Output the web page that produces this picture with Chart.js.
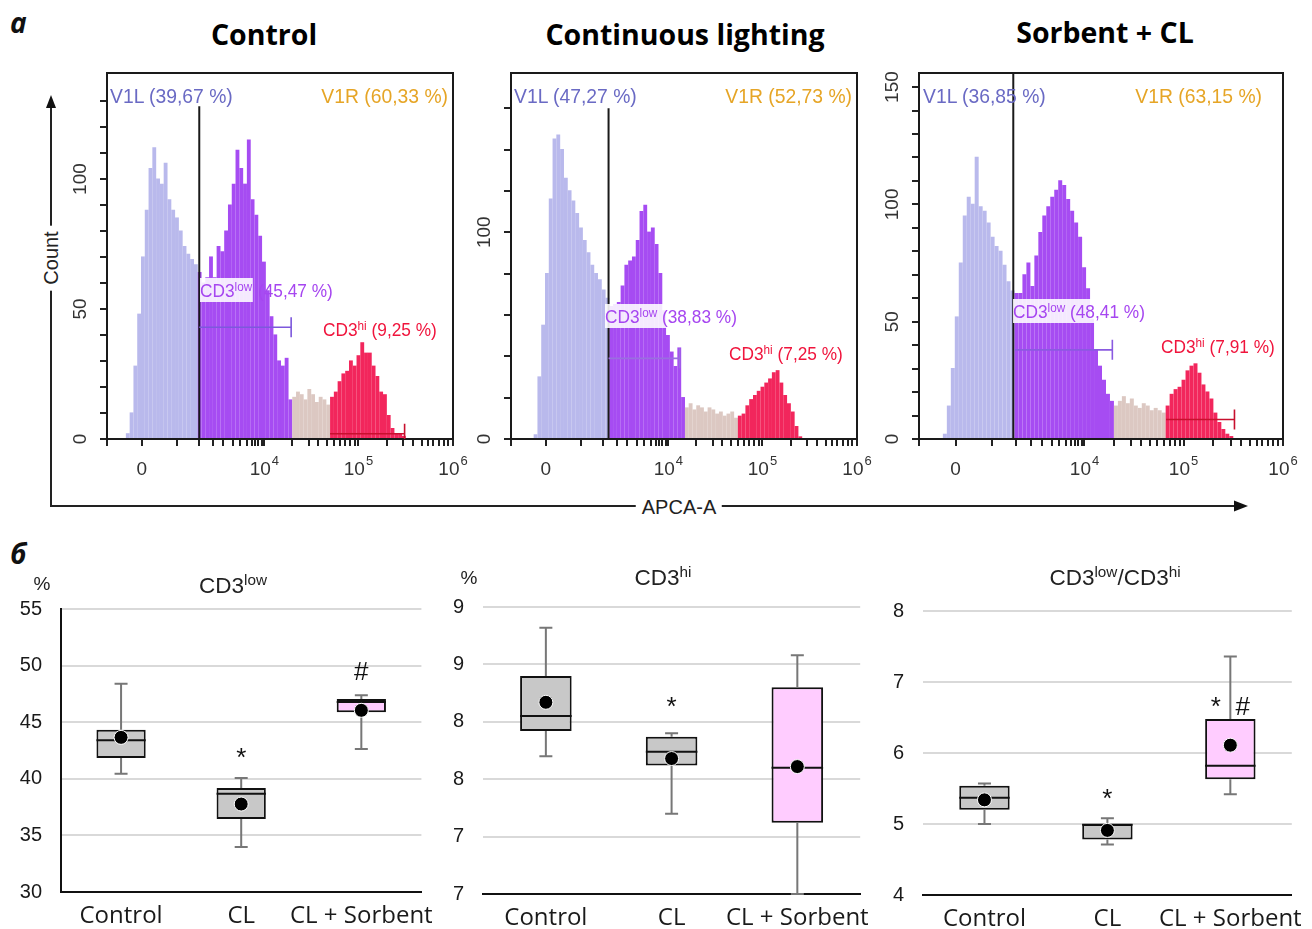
<!DOCTYPE html>
<html>
<head>
<meta charset="utf-8">
<script src="https://cdn.jsdelivr.net/npm/chart.js@4.4.1/dist/chart.umd.min.js"></script>
<style>
  html, body { margin: 0; padding: 0; background: #fff; }
  #fig { position: relative; width: 1312px; height: 929px; overflow: hidden; font-family: 'Liberation Sans', Arial, sans-serif; }
  canvas { position: absolute; }
  .t { position: absolute; white-space: nowrap; line-height: 1; z-index: 5; }
  .c { transform: translate(-50%, -50%); }
  .l { transform: translateY(-50%); }
  .r { transform: translate(-100%, -50%); }
  .lx { transform: translateY(-50%) scaleX(0.92); transform-origin: left center; }
  .rx { transform: translate(-100%, -50%) scaleX(0.92); transform-origin: right center; }
  .lq { transform: translateY(-50%) scaleX(0.96); transform-origin: left center; }
  sup { font-size: 0.68em; position: relative; top: -0.5em; vertical-align: baseline; line-height: 0; }
  .hdr { font-family: 'Open Sans'; font-weight: 700; font-size: 28.5px; color: #000; }
  .tag { font-family: 'Open Sans'; font-weight: 700; font-style: italic; font-size: 28px; color: #111; }
  .v1l { color: #6a6ac4; font-size: 21px; }
  .v1r { color: #e6a526; font-size: 21px; }
  .low { color: #a646f0; font-size: 18px; }
  .low .bg { background: rgba(255,255,255,0.88); display: inline-block; padding: 4px 1px 2px 0; }
  .hi { color: #f0143c; font-size: 18px; }
  .ttl { font-size: 22.5px; color: #222; }
  .ax { font-size: 20px; color: #222; background: #fff; padding: 0 6px; }
</style>
</head>
<body>
<div id="fig">
  <svg width="1312" height="929" style="position:absolute;left:0;top:0">
    <line x1="51" y1="104" x2="51" y2="506" stroke="#222" stroke-width="2"/>
    <polygon points="51,95 46,108 56,108" fill="#111"/>
    <line x1="50" y1="506" x2="1238" y2="506" stroke="#222" stroke-width="2"/>
    <polygon points="1248,506 1234,500.5 1234,511.5" fill="#111"/>
  </svg>

  <div class="t tag l" style="left:10px;top:22px">a</div>
  <div class="t hdr c" style="left:264px;top:34px">Control</div>
  <div class="t hdr c" style="left:685px;top:34px">Continuous lighting</div>
  <div class="t hdr c" style="left:1105px;top:32px">Sorbent + CL</div>

  <div class="t ax c" style="left:51px;top:258px;transform:translate(-50%,-50%) rotate(-90deg)">Count</div>
  <div class="t ax c" style="left:679px;top:507px">APCA-A</div>

  <div class="t v1l lx" style="left:110px;top:95px">V1L (39,67 %)</div>
  <div class="t v1r rx" style="left:448px;top:95px">V1R (60,33 %)</div>
  <div class="t low lq" style="left:200px;top:290px"><span class="bg">CD3<sup>low</sup></span> (45,47 %)</div>
  <div class="t hi lq" style="left:323px;top:330px">CD3<sup>hi</sup> (9,25 %)</div>

  <div class="t v1l lx" style="left:514px;top:95px">V1L (47,27 %)</div>
  <div class="t v1r rx" style="left:852px;top:95px">V1R (52,73 %)</div>
  <div class="t low lq" style="left:605px;top:316px"><span class="bg">CD3<sup>low</sup> (38,83 %)</span></div>
  <div class="t hi lq" style="left:729px;top:354px">CD3<sup>hi</sup> (7,25 %)</div>

  <div class="t v1l lx" style="left:923px;top:95px">V1L (36,85 %)</div>
  <div class="t v1r rx" style="left:1262px;top:95px">V1R (63,15 %)</div>
  <div class="t low lq" style="left:1013px;top:311px"><span class="bg">CD3<sup>low</sup> (48,41 %)</span></div>
  <div class="t hi lq" style="left:1161px;top:347px">CD3<sup>hi</sup> (7,91 %)</div>

  <div class="t tag l" style="left:10px;top:553px">б</div>
  <div class="t ttl c" style="left:42px;top:583px;font-size:19px">%</div>
  <div class="t ttl c" style="left:233px;top:586px">CD3<sup>low</sup></div>
  <div class="t ttl c" style="left:469px;top:577px;font-size:19px">%</div>
  <div class="t ttl c" style="left:663px;top:578px">CD3<sup>hi</sup></div>
  <div class="t ttl c" style="left:1115px;top:578px">CD3<sup>low</sup>/CD3<sup>hi</sup></div>
</div>

<script>
// ---- histogram data (x in channel units: 0 = left frame, 91.5 = 10^6) ----
const xMax = 91.5;
const xTickPos = [0, 9.2, 18.4, 24.4, 28.1, 30.8, 33.4, 35.2, 36.9, 38.3, 39.2, 40.0, 40.9, 41.6,
  49.0, 53.3, 55.9, 58.1, 59.9, 61.6, 63.0, 64.3, 65.6, 66.5,
  74.0, 78.4, 81.0, 83.2, 85.0, 86.3, 87.7, 89.0, 90.3, 91.5];
const xLabelPos = [9.2, 41.6, 66.5, 91.5];
const xLabelBase = ['0', '10', '10', '10'];
const xLabelExp = ['', '4', '5', '6'];

const regionColors = ['#b9b9ec', '#a64cf2', '#dcc8c2', '#f2265c'];

const ctrlStart = 5;
const ctrlCounts = [2, 10, 28, 48, 70, 88, 104, 112, 100, 98,
  106, 92, 88, 85, 80, 74, 71, 69, 67, 64,
  60, 62, 70, 62, 74, 72, 80, 90, 98, 111,
  104, 98, 115, 92, 86, 78, 68, 57, 47, 40,
  30, 28, 31, 15, 16, 18, 17, 15, 19, 17,
  14, 16, 15, 13, 16, 18, 22, 25, 26, 30,
  28, 32, 37, 33, 33, 28, 24, 18, 17, 9,
  4, 2, 2, 1];
const ctrlSplits = [24, 49, 59];

const clStart = 6;
const clCounts = [2, 30, 55, 80, 116, 145, 147, 140, 126, 120,
  115, 109, 102, 96, 90, 84, 80, 77, 72, 68,
  64, 65, 66, 74, 84, 86, 88, 96, 110, 113,
  100, 102, 94, 80, 62, 50, 42, 35, 44, 20,
  15, 17, 14, 16, 15, 13, 15, 14, 12, 13,
  11, 12, 13, 10, 11, 12, 16, 19, 21, 23,
  25, 27, 29, 32, 33, 27, 21, 17, 13, 6,
  1];
const clSplits = [26, 46, 60];

const sorbStart = 6;
const sorbCounts = [2, 14, 30, 52, 75, 95, 103, 100, 120, 99,
  97, 92, 86, 82, 80, 74, 67, 63, 62, 62,
  70, 75, 65, 78, 88, 95, 99, 103, 106, 110,
  108, 102, 97, 92, 86, 73, 64, 51, 38, 31,
  25, 19, 16, 14, 16, 18, 15, 17, 14, 13,
  15, 14, 12, 13, 12, 11, 14, 19, 21, 22,
  25, 29, 31, 32, 28, 23, 20, 17, 11, 7,
  4, 2, 1];
const sorbSplits = [24, 49, 62];

// ---- box plot data ----
const groups = ['Control', 'CL', 'CL + Sorbent'];
const boxFill = ['#c8c8c8', '#c8c8c8', '#ffccff'];

const lowMin = [40.45, 33.97, 42.63];
const lowQ1 = [41.84, 36.45, 45.87];
const lowMed = [43.4, 38.69, 46.78];
const lowQ3 = [44.34, 39.19, 47.05];
const lowMax = [48.4, 40.07, 47.37];
const lowMean = [43.66, 37.77, 46.05];
const lowMarks = ['', '*', '#'];
const lowMarkAt = [0, 41.16, 48.72];

const hiMin = [7.70, 7.20, 6.5];
const hiQ1 = [7.92, 7.62, 7.12];
const hiMed = [8.05, 7.74, 7.60];
const hiQ3 = [8.40, 7.87, 8.30];
const hiMax = [8.82, 7.90, 8.58];
const hiMean = [8.17, 7.68, 7.61];
const hiMarks = ['', '*', ''];
const hiMarkAt = [0, 8.06, 0];

const ratioMin = [5.00, 4.71, 5.42];
const ratioQ1 = [5.20, 4.78, 5.63];
const ratioMed = [5.37, 4.99, 5.82];
const ratioQ3 = [5.54, 5.00, 6.48];
const ratioMax = [5.57, 5.08, 7.36];
const ratioMean = [5.34, 4.91, 6.11];
const ratioMarks = ['', '*', '*  #'];
const ratioMarkAt = [0, 5.24, 6.54];

const fig = document.getElementById('fig');

function addCanvas(area, m) {
  const cv = document.createElement('canvas');
  cv.width = area.r - area.l + m.l + m.r;
  cv.height = area.b - area.t + m.t + m.b;
  cv.style.left = (area.l - m.l) + 'px';
  cv.style.top = (area.t - m.t) + 'px';
  cv.style.width = cv.width + 'px';
  cv.style.height = cv.height + 'px';
  fig.appendChild(cv);
  return cv;
}

const histPlugin = {
  id: 'hist',
  afterDatasetsDraw(chart, args, o) {
    const { ctx, chartArea: a, scales: { x, y } } = chart;
    ctx.save();
    ctx.lineWidth = 2;
    ctx.strokeStyle = '#1a1a1a';
    ctx.strokeRect(a.left, a.top, a.right - a.left, a.bottom - a.top);
    // gate between V1L and V1R
    const gx = x.getPixelForValue(o.gate);
    ctx.beginPath();
    ctx.moveTo(gx, a.bottom);
    ctx.lineTo(gx, y.getPixelForValue(o.gateTop));
    ctx.stroke();
    // CD3low / CD3hi range markers
    o.marks.forEach(mk => {
      const x0 = x.getPixelForValue(mk.from);
      const x1 = x.getPixelForValue(mk.to);
      const yy = y.getPixelForValue(mk.at);
      ctx.strokeStyle = mk.color;
      ctx.lineWidth = 1.6;
      ctx.beginPath();
      ctx.moveTo(x0, yy);
      ctx.lineTo(x1, yy);
      ctx.moveTo(x1, yy - 10);
      ctx.lineTo(x1, Math.min(yy + 10, a.bottom));
      ctx.stroke();
    });
    // axis labels
    ctx.fillStyle = '#333';
    ctx.textBaseline = 'middle';
    ctx.textAlign = 'left';
    xLabelPos.forEach((v, i) => {
      const px = x.getPixelForValue(v);
      ctx.font = '19px "Liberation Sans"';
      const wb = ctx.measureText(xLabelBase[i]).width;
      ctx.font = '13px "Liberation Sans"';
      const we = xLabelExp[i] ? ctx.measureText(xLabelExp[i]).width + 1 : 0;
      const left = px - (wb + we) / 2;
      ctx.font = '19px "Liberation Sans"';
      ctx.fillText(xLabelBase[i], left, a.bottom + 31);
      if (xLabelExp[i]) {
        ctx.font = '13px "Liberation Sans"';
        ctx.fillText(xLabelExp[i], left + wb + 1, a.bottom + 22);
      }
    });
    ctx.font = '19px "Liberation Sans"';
    o.yLabels.forEach(v => {
      ctx.save();
      ctx.translate(a.left - 26, y.getPixelForValue(v));
      ctx.rotate(-Math.PI / 2);
      ctx.textAlign = 'center';
      ctx.fillText(String(v), 0, 0);
      ctx.restore();
    });
    ctx.restore();
  }
};

function makeHist(area, counts, start, splits, yMax, yStep, extra) {
  const m = { l: 45, t: 5, r: 30, b: 45 };
  const cv = addCanvas(area, m);
  return new Chart(cv, {
    type: 'bar',
    data: {
      datasets: [{
        data: counts.map((v, i) => ({ x: start + i + 0.5, y: v })),
        backgroundColor: c => {
          const ch = c.raw ? c.raw.x : 0;
          let k = 0;
          splits.forEach(s => { if (ch >= s) k++; });
          return regionColors[k];
        },
        borderWidth: 0,
        inflateAmount: 0.6,
        barPercentage: 1,
        categoryPercentage: 1
      }]
    },
    options: {
      responsive: false,
      animation: false,
      devicePixelRatio: 1,
      layout: { padding: { left: 0, top: m.t, right: m.r, bottom: 0 } },
      plugins: { legend: { display: false }, tooltip: { enabled: false }, hist: extra },
      scales: {
        x: {
          type: 'linear', min: 0, max: xMax, offset: false,
          afterBuildTicks: s => { s.ticks = xTickPos.map(v => ({ value: v })); },
          afterFit: s => { s.height = m.b; },
          ticks: { display: false, autoSkip: false },
          grid: { drawOnChartArea: false, offset: false, tickLength: 7, color: '#222', lineWidth: 2 },
          border: { display: false }
        },
        y: {
          min: 0, max: yMax,
          ticks: { display: false, stepSize: yStep },
          afterBuildTicks: s => { s.ticks = s.ticks.filter(t => t.value % yStep === 0); },
          afterFit: s => { s.width = m.l; },
          grid: { drawOnChartArea: false, tickLength: 7, color: '#222', lineWidth: 2 },
          border: { display: false }
        }
      }
    },
    plugins: [histPlugin]
  });
}

makeHist({ l: 107, t: 73, r: 453, b: 439 }, ctrlCounts, ctrlStart, ctrlSplits, 140.8, 10, {
  gate: 24.4, gateTop: 128, yLabels: [0, 50, 100],
  marks: [{ from: 24.4, to: 48.7, at: 43, color: '#7d58dc' }, { from: 59, to: 78.7, at: 2, color: '#c8102e' }]
});
makeHist({ l: 511, t: 73, r: 857, b: 439 }, clCounts, clStart, clSplits, 177, 20, {
  gate: 25.8, gateTop: 160, yLabels: [0, 100],
  marks: [{ from: 25.8, to: 44.6, at: 39, color: '#9a6ee0' }]
});
makeHist({ l: 919, t: 73, r: 1283, b: 439 }, sorbCounts, sorbStart, sorbSplits, 156, 10, {
  gate: 23.7, gateTop: 156, yLabels: [0, 50, 100, 150],
  marks: [{ from: 24.1, to: 48.6, at: 38, color: '#8a5ae0' }, { from: 62.1, to: 79.3, at: 8.3, color: '#c8102e' }]
});

// ---- box plots ----
const boxPlugin = {
  id: 'boxes',
  afterDatasetDraw(chart, args, o) {
    if (args.index !== 0) return;
    const { ctx, scales: { y } } = chart;
    const meta = chart.getDatasetMeta(0);
    ctx.save();
    meta.data.forEach((bar, i) => {
      const cx = bar.x, half = bar.width / 2;
      ctx.strokeStyle = '#777';
      ctx.lineWidth = 2;
      ctx.beginPath();
      ctx.moveTo(cx, y.getPixelForValue(o.q3[i]));
      ctx.lineTo(cx, y.getPixelForValue(o.max[i]));
      ctx.moveTo(cx - 6.5, y.getPixelForValue(o.max[i]));
      ctx.lineTo(cx + 6.5, y.getPixelForValue(o.max[i]));
      ctx.moveTo(cx, y.getPixelForValue(o.q1[i]));
      ctx.lineTo(cx, y.getPixelForValue(o.min[i]));
      ctx.moveTo(cx - 6.5, y.getPixelForValue(o.min[i]));
      ctx.lineTo(cx + 6.5, y.getPixelForValue(o.min[i]));
      ctx.stroke();
      ctx.strokeStyle = '#111';
      ctx.beginPath();
      ctx.moveTo(cx - half, y.getPixelForValue(o.med[i]));
      ctx.lineTo(cx + half, y.getPixelForValue(o.med[i]));
      ctx.stroke();
    });
    ctx.restore();
  },
  afterDraw(chart, args, o) {
    const { ctx, scales: { x, y } } = chart;
    ctx.save();
    ctx.fillStyle = '#111';
    ctx.font = '26px "Liberation Sans"';
    ctx.textAlign = 'center';
    ctx.textBaseline = 'alphabetic';
    o.marks.forEach((txt, i) => {
      if (!txt) return;
      ctx.fillText(txt, x.getPixelForValue(i), y.getPixelForValue(o.markAt[i]));
    });
    ctx.restore();
  }
};

function makeBox(area, s, yMin, yMax, yStep, showYLine, fmt) {
  // top margin leaves room for the scale's own label padding (half label + tick padding)
  const m = { l: 60, t: 32, r: 20, b: 40 };
  const cv = addCanvas(area, m);
  return new Chart(cv, {
    data: {
      labels: groups,
      datasets: [
        {
          type: 'bar',
          order: 1,
          data: s.q1.map((q, i) => [q, s.q3[i]]),
          backgroundColor: boxFill,
          borderColor: '#111',
          borderWidth: 2,
          borderSkipped: false,
          categoryPercentage: 1,
          barPercentage: 0.41
        },
        {
          type: 'line',
          order: 0,
          data: s.mean,
          showLine: false,
          pointRadius: 7,
          pointBackgroundColor: '#000',
          pointBorderColor: '#fff',
          pointBorderWidth: 1
        }
      ]
    },
    options: {
      responsive: false,
      animation: false,
      devicePixelRatio: 1,
      layout: { padding: { left: 0, top: m.t, right: m.r, bottom: 0 } },
      plugins: { legend: { display: false }, tooltip: { enabled: false }, boxes: s },
      scales: {
        x: {
          afterFit: sc => { sc.height = m.b; },
          ticks: { color: '#1a1a1a', font: { family: 'Open Sans', size: 24 }, padding: 10, maxRotation: 0, autoSkip: false },
          grid: { display: true, drawOnChartArea: false, drawTicks: false },
          border: { display: true, color: '#111', width: 2 }
        },
        y: {
          min: yMin, max: yMax,
          afterFit: sc => { sc.width = m.l; },
          ticks: { stepSize: yStep, color: '#1a1a1a', font: { family: 'Liberation Sans', size: 20 }, padding: 19, callback: fmt },
          grid: { color: '#d9d9d9', lineWidth: 2, drawTicks: false },
          border: { display: showYLine, color: '#111', width: 2 }
        }
      }
    },
    plugins: [boxPlugin]
  });
}

makeBox({ l: 61, t: 609, r: 426, b: 892 },
  { min: lowMin, q1: lowQ1, med: lowMed, q3: lowQ3, max: lowMax, mean: lowMean, marks: lowMarks, markAt: lowMarkAt },
  30, 55, 5, true, v => v);
makeBox({ l: 483, t: 607, r: 862, b: 894 },
  { min: hiMin, q1: hiQ1, med: hiMed, q3: hiQ3, max: hiMax, mean: hiMean, marks: hiMarks, markAt: hiMarkAt },
  6.5, 9, 0.5, false, v => Math.round(v));
makeBox({ l: 923, t: 611, r: 1295, b: 895 },
  { min: ratioMin, q1: ratioQ1, med: ratioMed, q3: ratioQ3, max: ratioMax, mean: ratioMean, marks: ratioMarks, markAt: ratioMarkAt },
  4, 8, 1, false, v => v);
</script>
</body>
</html>
